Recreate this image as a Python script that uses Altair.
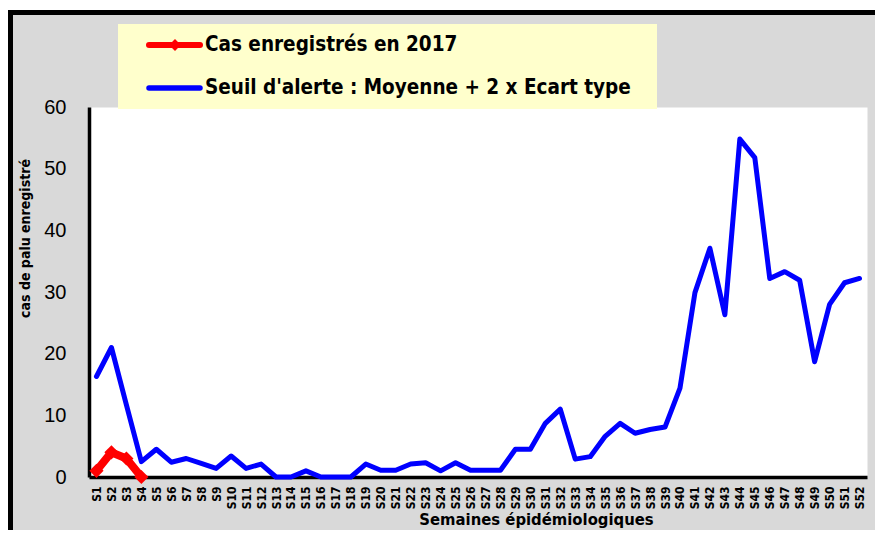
import altair as alt
import pandas as pd

weeks = ["S1", "S2", "S3", "S4", "S5", "S6", "S7", "S8", "S9", "S10",
         "S11", "S12", "S13", "S14", "S15", "S16", "S17", "S18", "S19", "S20",
         "S21", "S22", "S23", "S24", "S25", "S26", "S27", "S28", "S29", "S30",
         "S31", "S32", "S33", "S34", "S35", "S36", "S37", "S38", "S39", "S40",
         "S41", "S42", "S43", "S44", "S45", "S46", "S47", "S48", "S49", "S50",
         "S51", "S52"]
seuil = [16.3, 21.0, 11.7, 2.5, 4.5, 2.4, 3.0, 2.2, 1.4, 3.4,
         1.4, 2.1, 0, 0, 1.0, 0, 0, 0, 2.1, 1.1,
         1.1, 2.1, 2.3, 1.0, 2.3, 1.1, 1.1, 1.1, 4.5, 4.5,
         8.7, 11.0, 2.9, 3.3, 6.6, 8.7, 7.1, 7.7, 8.1, 14.4,
         29.9, 37.1, 26.3, 54.8, 51.8, 32.2, 33.3, 31.9, 18.7, 28.0,
         31.5, 32.2]
cas_weeks = ["S1", "S2", "S3", "S4"]
cas_2017 = [1, 4, 3, 0]

label_cas = "Cas enregistrés en 2017"
label_seuil = "Seuil d'alerte : Moyenne + 2 x Ecart type"
y_ticks = [0, 10, 20, 30, 40, 50, 60]

RED = "#ff0000"
BLUE = "#0000ff"
BOLD_FONT = "Liberation Sans Narrow, DejaVu Sans Condensed, Liberation Sans, sans-serif"
REG_FONT = "Liberation Sans, sans-serif"

df_seuil = pd.DataFrame({"week": weeks, "value": seuil})
df_cas = pd.DataFrame({"week": cas_weeks, "value": cas_2017})
one = pd.DataFrame({"a": [0]})

W, H = 778, 370
PR, PB = 8, 53

xenc = alt.X("week:N", sort=weeks,
             scale=alt.Scale(type="point", padding=0.5),
             axis=alt.Axis(title="Semaines épidémiologiques", labelAngle=270,
                           labelFont=BOLD_FONT, labelFontWeight="bold", labelFontSize=12,
                           labelPadding=9, tickSize=0, domainColor="black", domainWidth=3.5,
                           titleFont=BOLD_FONT, titleFontWeight="bold", titleFontSize=16.5,
                           titleX=447, titleY=42, titleAnchor="start", titleAlign="center",
                           titleBaseline="middle", labelColor="black", titleColor="black"))
yenc = alt.Y("value:Q", scale=alt.Scale(domain=[0, 60], nice=False),
             axis=alt.Axis(title="cas de palu enregistré", values=y_ticks, grid=False,
                           labelFont=REG_FONT, labelFontSize=20, labelPadding=23, tickSize=0,
                           domainColor="black", domainWidth=3.5, labelColor="black",
                           titleFont=BOLD_FONT, titleFontWeight="bold", titleFontSize=14,
                           titleColor="black", titleX=-64, titleY=131, titleAngle=270,
                           titleAlign="center", titleBaseline="middle"))

# frame decorations
frame_left = alt.Chart(one).mark_rule(color="black", strokeWidth=5).encode(
    x=alt.value(-78.5), y=alt.value(-97), y2=alt.value(H + PB))
frame_top = alt.Chart(one).mark_rule(color="black", strokeWidth=5).encode(
    x=alt.value(-81), x2=alt.value(W + PR), y=alt.value(-94.5))
frame_white = alt.Chart(one).mark_rule(color="white", strokeWidth=2).encode(
    x=alt.value(-81), x2=alt.value(W + PR), y=alt.value(-98))

blue_line = alt.Chart(df_seuil).mark_line(color=BLUE, strokeWidth=5, strokeJoin="round",
                                          strokeCap="round").encode(x=xenc, y=yenc)
red_line = alt.Chart(df_cas).mark_line(color=RED, strokeWidth=8, strokeJoin="round").encode(
    x=alt.X("week:N", sort=weeks), y="value:Q")
red_pts = alt.Chart(df_cas).mark_point(shape="diamond", filled=True, color=RED, size=200,
                                       opacity=1).encode(
    x=alt.X("week:N", sort=weeks), y="value:Q")

# legend
leg_box = alt.Chart(one).mark_rect(color="#ffffcc").encode(
    x=alt.value(29), x2=alt.value(568), y=alt.value(-83), y2=alt.value(2))
leg_red = alt.Chart(one).mark_rule(color=RED, strokeWidth=6, strokeCap="round").encode(
    x=alt.value(60), x2=alt.value(111), y=alt.value(-62))
leg_red_pt = alt.Chart(one).mark_point(shape="diamond", filled=True, color=RED, size=140,
                                       opacity=1).encode(x=alt.value(86), y=alt.value(-62))
leg_blue = alt.Chart(one).mark_rule(color=BLUE, strokeWidth=5.5, strokeCap="round").encode(
    x=alt.value(60), x2=alt.value(111), y=alt.value(-19))
leg_text1 = alt.Chart(pd.DataFrame({"t": [label_cas]})).mark_text(
    font=BOLD_FONT, fontWeight="bold", fontSize=20.5, align="left", baseline="middle",
    color="black").encode(text="t:N", x=alt.value(116), y=alt.value(-62))
leg_text2 = alt.Chart(pd.DataFrame({"t": [label_seuil]})).mark_text(
    font=BOLD_FONT, fontWeight="bold", fontSize=20.5, align="left", baseline="middle",
    color="black").encode(text="t:N", x=alt.value(116), y=alt.value(-19))

chart = alt.layer(
    frame_white, frame_left, frame_top,
    blue_line, red_line, red_pts,
    leg_box, leg_red, leg_red_pt, leg_blue, leg_text1, leg_text2
).properties(
    width=W, height=H,
    autosize=alt.AutoSizeParams(type="none"),
    padding={"left": 81, "top": 99, "right": PR, "bottom": PB},
    background="#d9d9d9",
).configure_view(fill="white", stroke="transparent")

chart.save("out.html", embed_options={"renderer": "svg", "actions": False})
